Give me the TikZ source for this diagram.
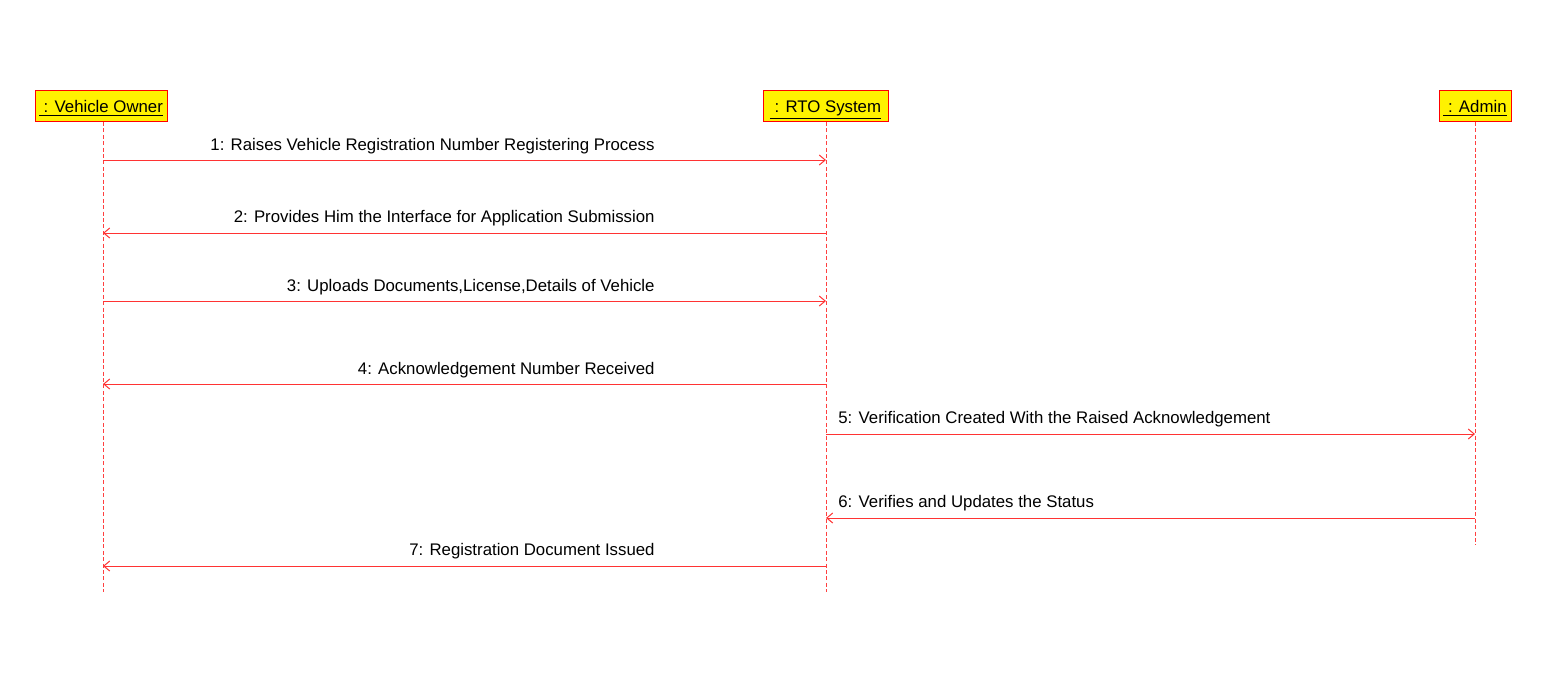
\documentclass[tikz,border=0pt]{standalone}
\usepackage{fontspec}
\setmainfont{Liberation Sans}
\usetikzlibrary{arrows.meta,positioning}
\newcommand{\actorname}[1]{\raisebox{-3pt}[0pt][0pt]{\underline{~#1}}}

\begin{document}
\begin{tikzpicture}[x=0.5pt,y=-0.5pt,font=\fontsize{8.4}{10}\selectfont,
		actor/.style={rectangle,draw=red,fill=yellow,inner sep=0pt,minimum height=15.5pt,line width=0.5pt},
		life/.style={red!75,line width=0.5pt,dash pattern=on 2pt off 1.2pt},
		msg/.style={red!80,line width=0.5pt,-{Straight Barb[length=3pt,width=5pt]}},
		lbl/.style={inner sep=0pt}]
		\useasboundingbox (0,0) rectangle (1543,677);
		% participants
		\node[actor,minimum width=66pt]   (owner) at (101,106) {\actorname{: Vehicle Owner}};
		\node[actor,minimum width=62.5pt] (rto)   at (825.5,106) {\actorname{: RTO System}};
		\node[actor,minimum width=36pt]   (admin) at (1475,106) {\actorname{: Admin}};
		
		\coordinate (ownerEnd) at (103,592);
		\coordinate (rtoEnd)   at (826,592);
		\coordinate (adminEnd) at (1475,545);
		
		\draw[life] (owner.south -| ownerEnd) -- (ownerEnd);
		\draw[life] (rto.south -| rtoEnd) -- (rtoEnd);
		\draw[life] (admin.south -| adminEnd) -- (adminEnd);
		
		% messages
		\draw[msg] (ownerEnd |- 0,160) -- (rtoEnd |- 0,160);
		\draw[msg] (rtoEnd |- 0,233) -- (ownerEnd |- 0,233);
		\draw[msg] (ownerEnd |- 0,301) -- (rtoEnd |- 0,301);
		\draw[msg] (rtoEnd |- 0,384) -- (ownerEnd |- 0,384);
		\draw[msg] (rtoEnd |- 0,434) -- (adminEnd |- 0,434);
		\draw[msg] (adminEnd |- 0,518) -- (rtoEnd |- 0,518);
		\draw[msg] (rtoEnd |- 0,566) -- (ownerEnd |- 0,566);
		
		\node[lbl,anchor=base east] (m1) at (655,150) {1: Raises Vehicle Registration Number Registering Process};
		\node[lbl,anchor=base east] (m2) at (655,222) {2: Provides Him the Interface for Application Submission};
		\node[lbl,anchor=base east] (m3) at (655,291) {3: Uploads Documents,License,Details of Vehicle};
		\node[lbl,anchor=base east] (m4) at (655,374) {4: Acknowledgement Number Received};
		\node[lbl,anchor=base west] (m5) at (838,423) {5: Verification Created With the Raised Acknowledgement};
		\node[lbl,anchor=base west] (m6) at (838,507) {6: Verifies and Updates the Status};
		\node[lbl,anchor=base east] (m7) at (655,555) {7: Registration Document Issued};
\end{tikzpicture}
\end{document}
